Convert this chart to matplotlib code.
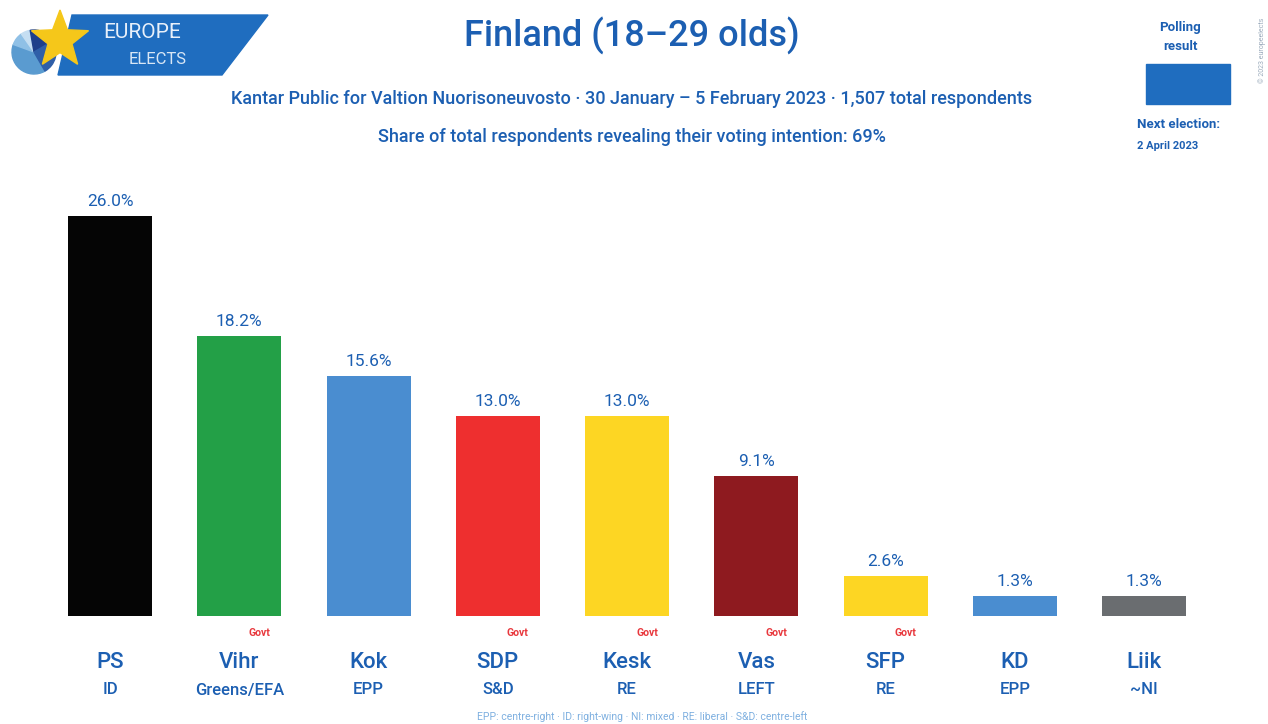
import numpy as np
import matplotlib.pyplot as plt
from matplotlib.patches import Polygon, Rectangle, Wedge
import matplotlib.path as mpath

plt.rcParams['font.family'] = ['Roboto', 'DejaVu Sans']

parties = ['PS', 'Vihr', 'Kok', 'SDP', 'Kesk', 'Vas', 'SFP', 'KD', 'Liik']
groups = ['ID', 'Greens/EFA', 'EPP', 'S&D', 'RE', 'LEFT', 'RE', 'EPP', '~NI']
values = [26.0, 18.2, 15.6, 13.0, 13.0, 9.1, 2.6, 1.3, 1.3]
govt = [False, True, False, True, True, True, True, False, False]
colors = ['#050505', '#23a047', '#4a8dd0', '#ee2f2f', '#fdd623',
          '#8e1a1f', '#fdd623', '#4a8dd0', '#6a6d70']

BLUE = '#1c5fb2'
W, H = 1268, 724

fig = plt.figure(figsize=(W / 100, H / 100), dpi=100)

def fx(px):
    return px / W

def fy(py):
    return 1 - py / H

# main bar axes
ax = fig.add_axes([fx(45), fy(616), fx(1210 - 45), (616 - 200.7) / H])
x = np.arange(len(parties))
ax.bar(x, values, width=0.65, color=colors)
ax.set_xlim(-0.503, 8.51)
ax.set_ylim(0, 27)
ax.axis('off')

for i, v in enumerate(values):
    ax.text(i, v + 0.45, f'{v:.1f}%', ha='center', va='bottom',
            fontsize=12.5, color=BLUE)

# labels below bars
for i in range(len(parties)):
    xf = fx(45) + (i + 0.503) / (8.51 + 0.503) * fx(1210 - 45)
    fig.text(xf, fy(662), parties[i], ha='center', va='center',
             fontsize=16, color=BLUE, fontweight='medium')
    fig.text(xf, fy(690), groups[i], ha='center', va='center',
             fontsize=12, color=BLUE, fontweight='medium')
    if govt[i]:
        fig.text(xf + fx(20), fy(633), 'Govt', ha='center', va='center',
                 fontsize=7.5, color='#e8383d', fontweight='bold')

# titles
fig.text(fx(632), fy(36), 'Finland (18–29 olds)', ha='center', va='center',
         fontsize=26, color=BLUE, fontweight='medium')
fig.text(fx(632), fy(99),
         'Kantar Public for Valtion Nuorisoneuvosto · 30 January – 5 February 2023 · 1,507 total respondents',
         ha='center', va='center', fontsize=13, color=BLUE, fontweight='medium')
fig.text(fx(632), fy(137),
         'Share of total respondents revealing their voting intention: 69%',
         ha='center', va='center', fontsize=13, color=BLUE, fontweight='medium')
fig.text(fx(642), fy(717),
         'EPP: centre-right · ID: right-wing · NI: mixed · RE: liberal · S&D: centre-left',
         ha='center', va='center', fontsize=7.5, color='#7fb0e0')

# legend box top right
fig.text(fx(1180), fy(27), 'Polling', ha='center', va='center',
         fontsize=9.5, color=BLUE, fontweight='bold')
fig.text(fx(1180), fy(47), 'result', ha='center', va='center',
         fontsize=9.5, color=BLUE, fontweight='bold')
fig.patches.append(Rectangle((fx(1146), fy(104)), fx(84), (104 - 64) / H,
                             transform=fig.transFigure, color='#1f6dbf'))
fig.text(fx(1137), fy(125), 'Next election:', ha='left', va='center',
         fontsize=9.5, color=BLUE, fontweight='bold')
fig.text(fx(1137), fy(146), '2 April 2023', ha='left', va='center',
         fontsize=8, color=BLUE, fontweight='bold')
fig.text(fx(1262), fy(50), '© 2023 europeelects', ha='center', va='center',
         fontsize=5, color='#9aaabb', rotation=90)

# logo
logo = Polygon([(fx(72), fy(15)), (fx(268), fy(15)), (fx(222), fy(75)), (fx(58), fy(75))],
               closed=True, transform=fig.transFigure, color='#1f6dbf', zorder=1)
fig.patches.append(logo)
lax = fig.add_axes([0, fy(90), fx(120), 90 / H], zorder=2)
lax.set_xlim(0, 120)
lax.set_ylim(90, 0)
lax.axis('off')
lax.patch.set_alpha(0)
shades = ['#5a9bd0', '#8fc0e6', '#c5def2', '#1e3f8a', '#2f5fa8']
angles = [(60, 200), (200, 235), (235, 260), (260, 330), (330, 420)]
for (a0, a1), c in zip(angles, shades):
    lax.add_patch(Wedge((34, 52), 22, a0, a1, color=c))
star = mpath.Path.unit_regular_star(5, 0.42)
verts = star.vertices * np.array([30, -30]) + np.array([60, 40])
lax.add_patch(Polygon(verts, closed=True, color='#f5c71a'))
fig.text(fx(142), fy(33), 'EUROPE', ha='center', va='center',
         fontsize=15, color='#e8f0fa', zorder=3)
fig.text(fx(158), fy(60), 'ELECTS', ha='center', va='center',
         fontsize=12, color='#d8e6f5', zorder=3)

fig.savefig('out.png', dpi=100)
